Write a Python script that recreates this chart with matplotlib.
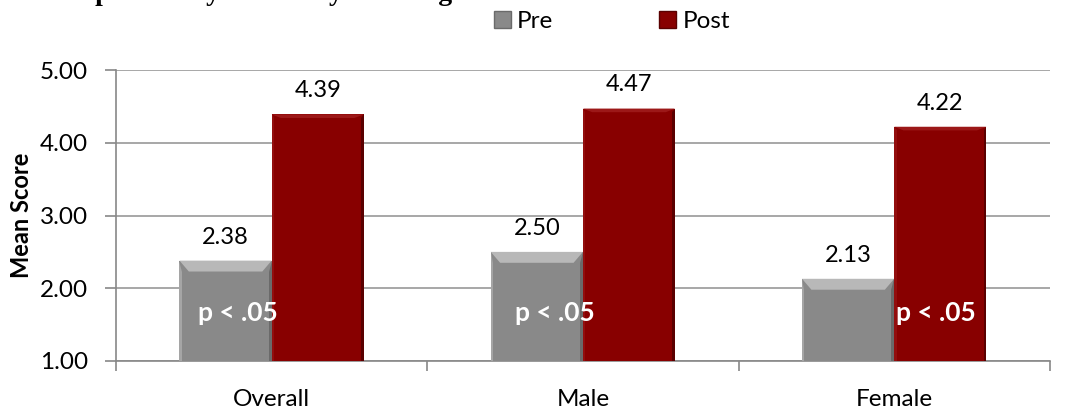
import numpy as np
import matplotlib.pyplot as plt
from matplotlib.patches import Polygon, Patch

# Mean scores before and after, by group
groups = ["Overall", "Male", "Female"]
pre_scores = [2.38, 2.50, 2.13]
post_scores = [4.39, 4.47, 4.22]
sig_labels = ["p < .05", "p < .05", "p < .05"]
sig_offsets = [-0.11, -0.09, 0.135]

plt.rcParams['font.family'] = ['Lato', 'DejaVu Sans']

fig = plt.figure(figsize=(10.68, 4.08), dpi=100)
ax = fig.add_axes([0.1086, 0.1152, 0.8744, 0.7132])

x = np.arange(len(groups))
w = 0.296
base = 1.0


def bevel_bars(xs, heights, face, light, dark, depth):
    bars = ax.bar(xs, np.array(heights) - base, w, bottom=base, color=face,
                  zorder=3, linewidth=0)
    for b in bars:
        x0, x1 = b.get_x(), b.get_x() + b.get_width()
        y1 = b.get_y() + b.get_height()
        bx = 0.03
        by = depth
        # lighter top bevel
        ax.add_patch(Polygon([[x0, y1], [x1, y1], [x1 - bx, y1 - by], [x0 + bx, y1 - by]],
                             closed=True, color=light, lw=0, zorder=4))
        # darker right edge
        ax.add_patch(Polygon([[x1, y1], [x1, base], [x1 - bx * 0.3, base],
                              [x1 - bx * 0.3, y1 - by]],
                             closed=True, color=dark, lw=0, zorder=4))
        # faint left edge
        ax.add_patch(Polygon([[x0, y1], [x0, base], [x0 + bx * 0.25, base],
                              [x0 + bx * 0.25, y1 - by]],
                             closed=True, color=light, lw=0, zorder=4, alpha=0.6))
    return bars


bevel_bars(x - w / 2, pre_scores, '#898989', '#b8b8b8', '#6a6a6a', 0.15)
bevel_bars(x + w / 2, post_scores, '#880000', '#9c1818', '#5a0000', 0.05)

for xi, v in zip(x - w / 2, pre_scores):
    ax.text(xi, v + 0.18, f"{v:.2f}", ha='center', va='bottom', fontsize=17)
for xi, v in zip(x + w / 2, post_scores):
    ax.text(xi, v + 0.18, f"{v:.2f}", ha='center', va='bottom', fontsize=17)

for xi, s, off in zip(x, sig_labels, sig_offsets):
    ax.text(xi + off, 1.66, s, ha='center', va='center', fontsize=19,
            fontweight='bold', color='white', zorder=6)

ax.set_xlim(-0.5, 2.5)
ax.set_ylim(1, 5)
ax.set_yticks([1, 2, 3, 4, 5])
ax.set_yticklabels([f"{t:.2f}" for t in [1, 2, 3, 4, 5]], fontsize=17.5)
ax.yaxis.grid(True, color='#a0a0a0', lw=1.3, zorder=0)
ax.set_axisbelow(True)

ax.set_xticks([-0.5, 0.5, 1.5, 2.5])
ax.set_xticklabels([])
ax.set_xticks(x, minor=True)
ax.set_xticklabels(groups, minor=True, fontsize=17.5)
ax.tick_params(axis='x', which='minor', length=0, pad=20)
ax.tick_params(axis='x', which='major', length=7, color='#888888', width=1.2)
ax.tick_params(axis='y', length=8, color='#888888', width=1.2, pad=12)

for side in ['top', 'right']:
    ax.spines[side].set_visible(False)
for side in ['left', 'bottom']:
    ax.spines[side].set_color('#888888')
    ax.spines[side].set_linewidth(1.2)

ax.set_ylabel("Mean Score", fontsize=17, fontweight='bold')
ax.yaxis.set_label_coords(-0.089, 0.5)

handles = [Patch(facecolor='#898989', edgecolor='#6a6a6a'),
           Patch(facecolor='#880000', edgecolor='#5a0000')]
fig.legend(handles, ["Pre", "Post"], loc='center', bbox_to_anchor=(0.573, 0.948),
           ncol=2, frameon=False, fontsize=17.5, handlelength=0.7, handleheight=0.7,
           handletextpad=0.25, columnspacing=4.35, borderpad=0)

# chart heading sits mostly above the canvas
fig.text(0.049, 1.0, "Responsibility for Safety Training", fontsize=20,
         fontweight='bold', family='Liberation Serif', va='baseline', ha='left')

fig.savefig("out.png", dpi=100)
